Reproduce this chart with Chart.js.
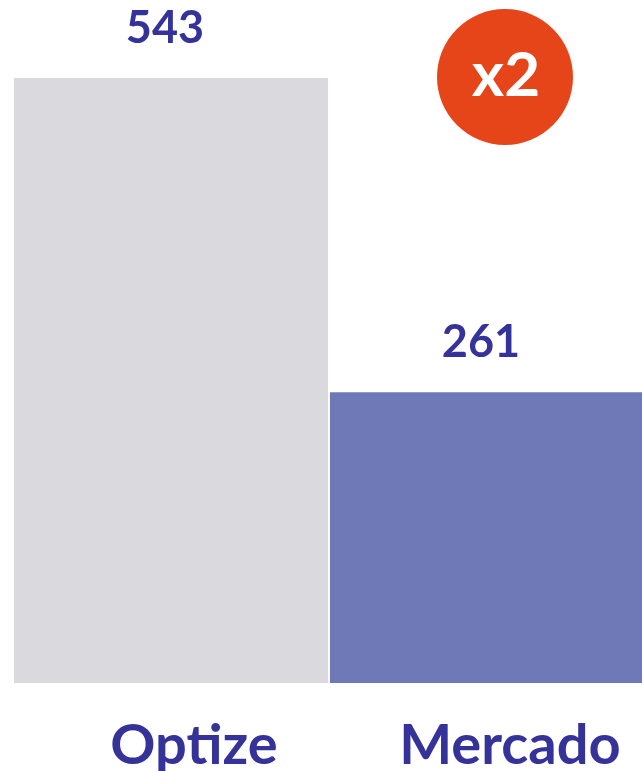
<!DOCTYPE html>
<html>
<head>
<meta charset="utf-8">
<script src="https://cdn.jsdelivr.net/npm/chart.js@4/dist/chart.umd.min.js"></script>
<style>
    html, body { margin: 0; padding: 0; background: #fff; overflow: hidden; }
    #wrap { width: 645px; height: 771px; position: relative; }
</style>
</head>
<body>
<div id="wrap"><canvas id="myChart"></canvas></div>
<script>
const categories = ['Optize', 'Mercado'];
const values = [543, 261];
const barColors = ['#dad9de', '#7079b7'];
const badgeText = 'x2';

const textColor = '#35339a';
const ctx = document.getElementById('myChart').getContext('2d');

// value labels above bars + the orange "x2" badge
const labelsPlugin = {
    id: 'labelsPlugin',
    afterDatasetsDraw(chart) {
        const c = chart.ctx;
        const meta = chart.getDatasetMeta(0);
        c.save();
        c.fillStyle = textColor;
        c.font = 'bold 45px Lato';
        c.textAlign = 'center';
        c.textBaseline = 'alphabetic';
        meta.data.forEach((bar, i) => {
            c.fillText(String(values[i]), bar.x - 6, bar.y - 35);
        });

        const b = meta.data[1];
        const cx = b.x + 18;
        const cy = chart.chartArea.top + 77;
        c.beginPath();
        c.arc(cx, cy, 68, 0, Math.PI * 2);
        c.fillStyle = '#e64519';
        c.fill();
        c.fillStyle = '#fff';
        c.font = 'bold 62px Lato';
        c.textBaseline = 'alphabetic';
        c.fillText(badgeText, cx + 1, cy + 19);
        c.restore();
    }
};

const myChart = new Chart(ctx, {
    type: 'bar',
    data: {
        labels: categories,
        datasets: [{
            data: values,
            backgroundColor: barColors,
            borderWidth: 0,
            categoryPercentage: 1,
            barPercentage: 0.994
        }]
    },
    options: {
        responsive: true,
        maintainAspectRatio: false,
        animation: false,
        layout: { padding: { left: 13, right: 0, top: 0, bottom: 0 } },
        plugins: {
            legend: { display: false },
            tooltip: { enabled: false }
        },
        scales: {
            x: {
                grid: { display: false, drawTicks: false },
                border: { display: false },
                ticks: {
                    color: textColor,
                    font: { family: 'Lato', size: 56, weight: 'bold', lineHeight: 1.2 },
                    padding: 29,
                    labelOffset: 23
                },
                afterFit(scale) {
                    scale.height = 88;
                }
            },
            y: {
                display: false,
                min: 0,
                max: 613
            }
        }
    },
    plugins: [labelsPlugin]
});
</script>
</body>
</html>
